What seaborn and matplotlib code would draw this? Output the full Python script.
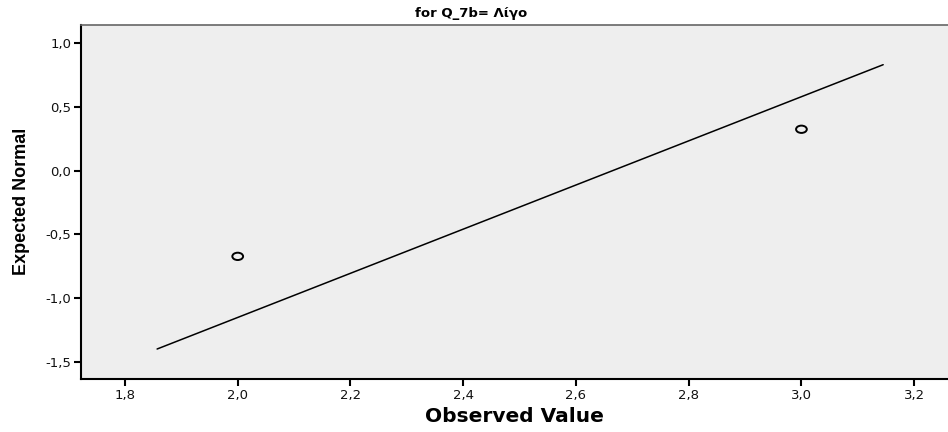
import numpy as np
import pandas as pd
import matplotlib
matplotlib.use("Agg")
import matplotlib.pyplot as plt
import seaborn as sns
from matplotlib.path import Path
from matplotlib.transforms import Affine2D
from matplotlib.ticker import FuncFormatter

# observed points (normal Q-Q plot)
observed = [2.0, 3.0]
expected = [-0.672, 0.324]

# reference line end points
line_x = [1.857, 3.145]
line_y = [-1.398, 0.83]

x_ticks = [1.8, 2.0, 2.2, 2.4, 2.6, 2.8, 3.0, 3.2]
y_ticks = [-1.5, -1.0, -0.5, 0.0, 0.5, 1.0]

sns.set_style("white")
plt.rcParams['font.family'] = ['DejaVu Sans']

fig = plt.figure(figsize=(9.48, 4.32), dpi=100)
ax = fig.add_axes([81 / 948, 53 / 432, 1 - 81 / 948, (379 - 24.5) / 432])
ax.set_facecolor("#eeeeee")

# slightly flattened open circle like the SPSS marker
ellipse = Path.unit_circle().transformed(Affine2D().scale(1.0, 0.68))

pts = pd.DataFrame({"x": observed, "y": expected})
ref = pd.DataFrame({"x": line_x, "y": line_y})
sns.lineplot(data=ref, x="x", y="y", color="black", linewidth=1.1, ax=ax)
sns.scatterplot(data=pts, x="x", y="y", marker=ellipse, s=60, facecolor="none",
                edgecolor="black", linewidth=1.4, ax=ax, zorder=3)

ax.set_xlim(1.722, 3.26)
ax.set_ylim(-1.633, 1.145)
ax.set_xticks(x_ticks)
ax.set_yticks(y_ticks)
comma = FuncFormatter(lambda v, p: f"{v:.1f}".replace(".", ","))
ax.xaxis.set_major_formatter(comma)
ax.yaxis.set_major_formatter(comma)
ax.tick_params(axis="both", direction="out", length=5, width=1.5, color="black",
               labelsize=9.5, labelcolor="#111111", bottom=True, left=True, pad=2)

for side in ["left", "bottom"]:
    ax.spines[side].set_color("black")
    ax.spines[side].set_linewidth(1.5)
ax.spines["top"].set_color("#666666")
ax.spines["top"].set_linewidth(1.2)
ax.spines["right"].set_visible(False)

ax.set_xlabel("Observed Value", fontsize=14.5, fontweight="bold", labelpad=4,
              color="black")
ax.set_ylabel("Expected Normal", fontsize=13, fontweight="bold", labelpad=11,
              color="black", family=['Liberation Sans Narrow', 'Liberation Sans'])
fig.text(471 / 948, 1 - 14 / 432, "for Q_7b= Λίγο", ha="center", va="center",
         fontsize=9.5, fontweight="bold", color="black")

fig.savefig("out.png", dpi=100)
